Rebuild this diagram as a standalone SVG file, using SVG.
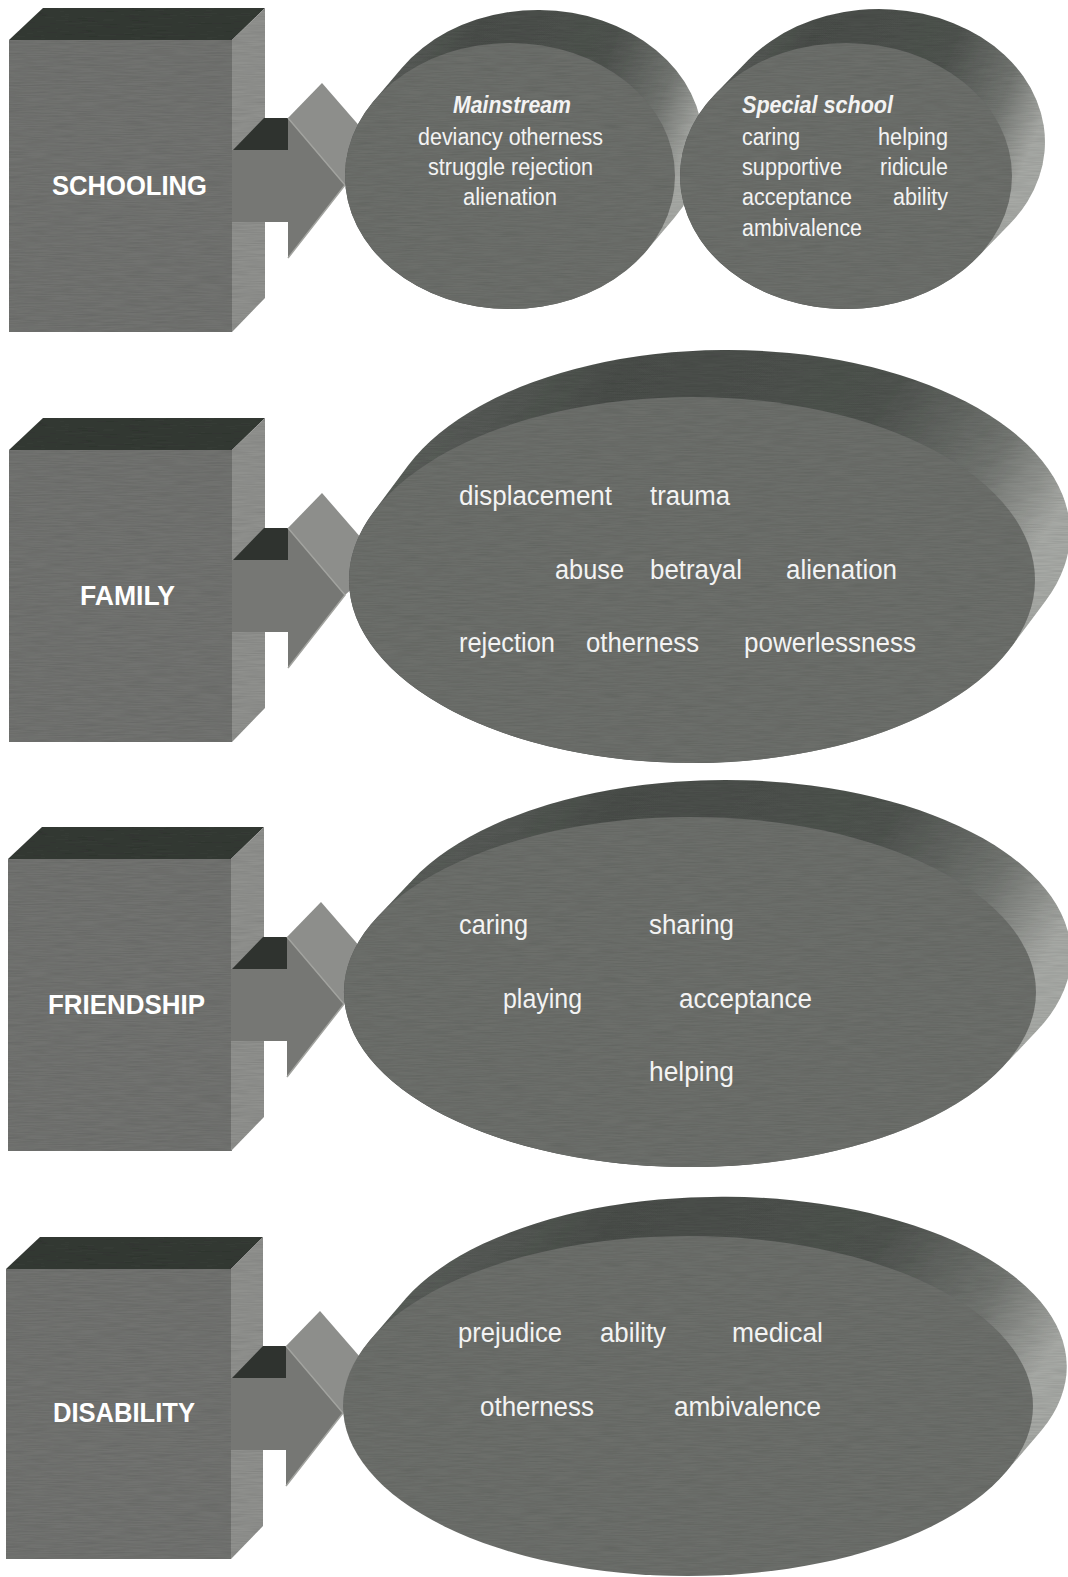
<svg xmlns="http://www.w3.org/2000/svg" width="1068" height="1577" viewBox="0 0 1068 1577">
<defs>
<style>
.front{fill:#717270}
.top{fill:#363a36}
.rside{fill:#8f908d}
.shafttop{fill:#2f332f}
.bevel{fill:#8d8e8b}
.arrow{fill:#767774}
.edge{stroke:#a2a39f;stroke-width:1.5;fill:none}
.back{fill:url(#backGrad)}
.disc{fill:#6c6e6b}
.lbl{font-family:"Liberation Sans",Arial,sans-serif;font-weight:bold;font-size:28px;fill:#ffffff}
.t{font-family:"Liberation Sans",Arial,sans-serif;fill:#f3f3f3}
.s1{font-size:23px}
.s2{font-size:27px}
.hd{font-weight:bold;font-style:italic}
</style>
<linearGradient id="backGrad" x1="0" y1="0" x2="1" y2="0.35">
<stop offset="0" stop-color="#666a66"/>
<stop offset="0.35" stop-color="#4a4e4a"/>
<stop offset="0.7" stop-color="#4f534f"/>
<stop offset="0.88" stop-color="#727571"/>
<stop offset="1" stop-color="#a6a8a4"/>
</linearGradient>
<filter id="grain" x="0" y="0" width="100%" height="100%">
<feTurbulence type="fractalNoise" baseFrequency="0.04 0.9" numOctaves="2" seed="4" result="n"/>
<feColorMatrix in="n" type="matrix" values="0 0 0 0 0  0 0 0 0 0  0 0 0 0 0  0 0 0 0.3 -0.1" result="g"/>
<feComposite in="g" in2="SourceGraphic" operator="in" result="gi"/>
<feMerge><feMergeNode in="SourceGraphic"/><feMergeNode in="gi"/></feMerge>
</filter>
</defs>
<rect width="1068" height="1577" fill="#ffffff"/>

<!-- Cubes -->
<g id="schooling" filter="url(#grain)">
<rect class="front" x="9" y="40" width="223" height="292"/>
<polygon class="top" points="9,40 43,8 265,8 232,40"/>
<polygon class="rside" points="232,40 265,8 265,298 232,332"/>
</g>
<g id="family" transform="translate(0,410)" filter="url(#grain)">
<rect class="front" x="9" y="40" width="223" height="292"/>
<polygon class="top" points="9,40 43,8 265,8 232,40"/>
<polygon class="rside" points="232,40 265,8 265,298 232,332"/>
</g>
<g id="friendship" transform="translate(0,819)" filter="url(#grain)">
<rect class="front" x="8" y="40" width="224" height="292"/>
<polygon class="top" points="8,40 42,8 264,8 231,40"/>
<polygon class="rside" points="231,40 264,8 264,298 231,332"/>
</g>
<g id="disability" transform="translate(0,1228)" filter="url(#grain)">
<rect class="front" x="6" y="41" width="225" height="290"/>
<polygon class="top" points="6,41 40,9 263,9 231,41"/>
<polygon class="rside" points="231,41 263,9 263,298 231,331"/>
</g>

<!-- Connectors (block arrows) -->
<g id="connectors">
<g transform="translate(0,0)">
<polygon class="shafttop" points="233,150 264,118 288,118 288,150"/>
<polygon class="bevel" points="288,118 322,83 382,152 345,185"/>
<polygon class="arrow" points="232,150 288,150 288,118 345,185 288,258 288,222 232,222"/>
<polyline class="edge" points="288,118 345,185 288,258"/>
</g>
<g transform="translate(0,410)">
<polygon class="shafttop" points="233,150 264,118 288,118 288,150"/>
<polygon class="bevel" points="288,118 322,83 382,152 345,185"/>
<polygon class="arrow" points="232,150 288,150 288,118 345,185 288,258 288,222 232,222"/>
<polyline class="edge" points="288,118 345,185 288,258"/>
</g>
<g transform="translate(0,819)">
<polygon class="shafttop" points="232,150 263,118 287,118 287,150"/>
<polygon class="bevel" points="287,118 321,83 381,152 344,185"/>
<polygon class="arrow" points="231,150 287,150 287,118 344,185 287,258 287,222 231,222"/>
<polyline class="edge" points="287,118 344,185 287,258"/>
</g>
<g transform="translate(0,1228)">
<polygon class="shafttop" points="232,150 263,118 286,118 286,150"/>
<polygon class="bevel" points="286,118 320,83 380,152 343,185"/>
<polygon class="arrow" points="231,150 286,150 286,118 343,185 286,258 286,222 231,222"/>
<polyline class="edge" points="286,118 343,185 286,258"/>
</g>
</g>

<!-- Row 1 discs -->
<g id="mainstream" filter="url(#grain)">
<path class="back" d="M373.8,100.9 L401.8,67.9 A165,133 0 0 1 674.2,218.1 L646.2,251.1 A165,133 0 0 1 373.8,100.9 Z"/>
<ellipse class="disc" cx="510" cy="176" rx="165" ry="133"/>
</g>
<g id="mainstream-text">
<text class="t s1 hd" x="453" y="113" textLength="118" lengthAdjust="spacingAndGlyphs">Mainstream</text>
<text class="t s1" x="418" y="145" textLength="185" lengthAdjust="spacingAndGlyphs">deviancy otherness</text>
<text class="t s1" x="428" y="175" textLength="165" lengthAdjust="spacingAndGlyphs">struggle rejection</text>
<text class="t s1" x="463" y="205" textLength="94" lengthAdjust="spacingAndGlyphs">alienation</text>
</g>
<g id="special-school" filter="url(#grain)">
<path class="back" d="M715,94.3 L748,60.3 A166,133 0 0 1 1010,223.7 L977,257.7 A166,133 0 0 1 715,94.3 Z"/>
<ellipse class="disc" cx="846" cy="176" rx="166" ry="133"/>
</g>
<g id="special-school-text">
<text class="t s1 hd" x="742" y="113" textLength="151" lengthAdjust="spacingAndGlyphs">Special school</text>
<text class="t s1" x="742" y="145" textLength="58" lengthAdjust="spacingAndGlyphs">caring</text>
<text class="t s1" x="878" y="145" textLength="70" lengthAdjust="spacingAndGlyphs">helping</text>
<text class="t s1" x="742" y="175" textLength="100" lengthAdjust="spacingAndGlyphs">supportive</text>
<text class="t s1" x="880" y="175" textLength="68" lengthAdjust="spacingAndGlyphs">ridicule</text>
<text class="t s1" x="742" y="205" textLength="110" lengthAdjust="spacingAndGlyphs">acceptance</text>
<text class="t s1" x="893" y="205" textLength="55" lengthAdjust="spacingAndGlyphs">ability</text>
<text class="t s1" x="742" y="236" textLength="120" lengthAdjust="spacingAndGlyphs">ambivalence</text>
</g>

<!-- Row 2 disc -->
<g id="family-disc" filter="url(#grain)">
<path class="back" d="M373.3,512.3 L408.3,465.3 A343,183 0 0 1 1045.7,600.7 L1010.7,647.7 A343,183 0 0 1 373.3,512.3 Z"/>
<ellipse class="disc" cx="692" cy="580" rx="343" ry="183"/>
</g>
<g id="family-text">
<text class="t s2" x="459" y="505" textLength="153" lengthAdjust="spacingAndGlyphs">displacement</text>
<text class="t s2" x="650" y="505" textLength="80" lengthAdjust="spacingAndGlyphs">trauma</text>
<text class="t s2" x="555" y="579" textLength="69" lengthAdjust="spacingAndGlyphs">abuse</text>
<text class="t s2" x="650" y="579" textLength="92" lengthAdjust="spacingAndGlyphs">betrayal</text>
<text class="t s2" x="786" y="579" textLength="111" lengthAdjust="spacingAndGlyphs">alienation</text>
<text class="t s2" x="459" y="652" textLength="96" lengthAdjust="spacingAndGlyphs">rejection</text>
<text class="t s2" x="586" y="652" textLength="113" lengthAdjust="spacingAndGlyphs">otherness</text>
<text class="t s2" x="744" y="652" textLength="172" lengthAdjust="spacingAndGlyphs">powerlessness</text>
</g>

<!-- Row 3 disc -->
<g id="friendship-disc" filter="url(#grain)">
<path class="back" d="M377.9,916.4 L412.9,879.4 A346,175 0 0 1 1037.1,1030.6 L1002.1,1067.6 A346,175 0 0 1 377.9,916.4 Z"/>
<ellipse class="disc" cx="690" cy="992" rx="346" ry="175"/>
</g>
<g id="friendship-text">
<text class="t s2" x="459" y="934" textLength="69" lengthAdjust="spacingAndGlyphs">caring</text>
<text class="t s2" x="649" y="934" textLength="85" lengthAdjust="spacingAndGlyphs">sharing</text>
<text class="t s2" x="503" y="1008" textLength="79" lengthAdjust="spacingAndGlyphs">playing</text>
<text class="t s2" x="679" y="1008" textLength="133" lengthAdjust="spacingAndGlyphs">acceptance</text>
<text class="t s2" x="649" y="1081" textLength="85" lengthAdjust="spacingAndGlyphs">helping</text>
</g>

<!-- Row 4 disc -->
<g id="disability-disc" filter="url(#grain)">
<path class="back" d="M370.2,1339.9 L406.2,1297.9 A345,170 0 0 1 1041.8,1430.1 L1005.8,1472.1 A345,170 0 0 1 370.2,1339.9 Z"/>
<ellipse class="disc" cx="688" cy="1406" rx="345" ry="170"/>
</g>
<g id="disability-text">
<text class="t s2" x="458" y="1342" textLength="104" lengthAdjust="spacingAndGlyphs">prejudice</text>
<text class="t s2" x="600" y="1342" textLength="66" lengthAdjust="spacingAndGlyphs">ability</text>
<text class="t s2" x="732" y="1342" textLength="91" lengthAdjust="spacingAndGlyphs">medical</text>
<text class="t s2" x="480" y="1416" textLength="114" lengthAdjust="spacingAndGlyphs">otherness</text>
<text class="t s2" x="674" y="1416" textLength="147" lengthAdjust="spacingAndGlyphs">ambivalence</text>
</g>

<!-- Cube labels -->
<g id="labels">
<text class="lbl" x="52" y="195" textLength="155" lengthAdjust="spacingAndGlyphs">SCHOOLING</text>
<text class="lbl" x="80" y="605" textLength="95" lengthAdjust="spacingAndGlyphs">FAMILY</text>
<text class="lbl" x="48" y="1014" textLength="157" lengthAdjust="spacingAndGlyphs">FRIENDSHIP</text>
<text class="lbl" x="53" y="1422" textLength="142" lengthAdjust="spacingAndGlyphs">DISABILITY</text>
</g>
</svg>
